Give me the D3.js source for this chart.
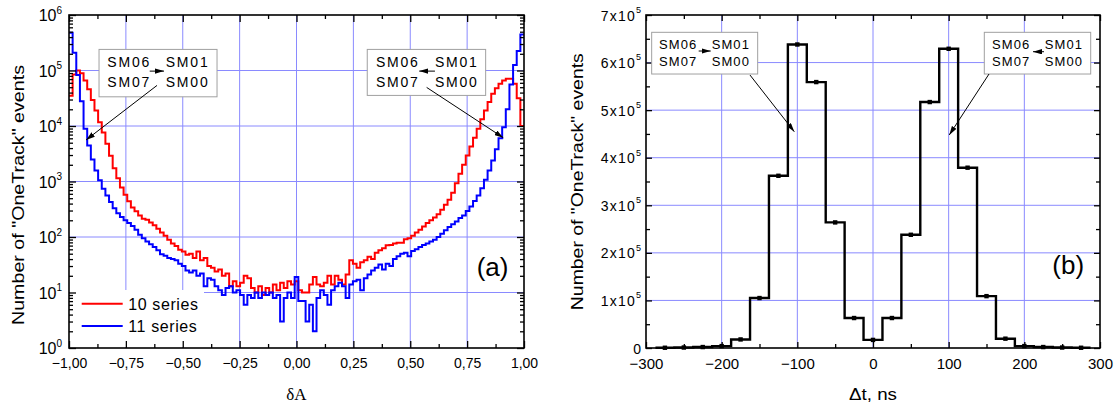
<!DOCTYPE html>
<html><head><meta charset="utf-8">
<script src="https://cdn.jsdelivr.net/npm/d3@7"></script>
<style>
body{margin:0;background:#fff}
svg{display:block}
text{font-family:"Liberation Sans",Arial,sans-serif;fill:#000}
</style>
</head><body>
<svg id="c" width="1117" height="408"></svg>
<script>
// ---------- DATA ----------
// Panel (a): histogram of dA, bins of width 0.016 from -1 to 1 (125 bins)
const binWidthA = 0.016;
const seriesNames = ["10 series", "11 series"];
const seriesColors = ["#ff0000", "#0000ff"];
const counts10 = [35000,85000,100000,89000,66000,46000,29500,19000,11700,7600,
  4800,2900,1740,1150,780,575,440,340,290,245,
  214,204,182,162,141,120,105,89,76,69,
  59,55,48,50,42,55,38,42,30,28,
  24,26,20,22,13,16,13,15,20,18,
  12,10,13,9,12,10,14,11,15,12,
  16,14,16,11,10,10,14,19,14,13,
  15,20,14,20,17,14,21,38,33,28,
  35,38,44,40,52,58,63,71,72,76,
  79,79,91,95,105,120,135,155,178,200,
  224,257,309,380,468,630,930,1380,2000,2950,
  4270,6170,8900,13200,19000,27000,38000,48000,57500,66000,
  71000,71000,57500,31600,10000];
const counts11 = [480000,209000,83000,28000,8900,4470,2500,1580,1050,740,
  560,427,331,269,229,200,178,158,135,110,
  95,83,74,66,58,49,46,42,40,38,
  33,30,25,23,25,20,22,13,18,17,
  13,11,9,12,13,10,11,9,6,9,
  8,10,8,10,9,10,8,9,3,8,
  10,8,19,7,7,3,6,2,8,11,
  9,6,11,13,15,13,8,14,16,17,
  11,18,21,25,28,32,26,33,30,40,
  45,50,52,45,56,60,66,72,76,83,
  89,100,115,132,151,170,190,219,245,295,
  355,447,562,759,1070,1580,2400,3800,6000,9500,
  20000,56000,126000,224000,447000];
const xTicksA = [-1,-0.75,-0.5,-0.25,0,0.25,0.5,0.75,1];
const xMinorA = [-0.875,-0.625,-0.375,-0.125,0.125,0.375,0.625,0.875];
const yTicksA = [1,10,100,1000,10000,100000,1000000];
const yExpA = ["0","1","2","3","4","5","6"];

// Panel (b): histogram of dt, 25 ns bins
const binWidthB = 25;
const dtCenters = [-275,-250,-225,-200,-175,-150,-125,-100,-75,-50,-25,0,25,50,75,100,125,150,175,200,225,250,275];
const dtCounts = [500,1000,2000,4000,18000,105000,362000,638000,559000,264000,63000,17000,63000,238000,517000,629000,379000,109000,19600,4000,2000,1000,500];
const xTicksB = [-300,-200,-100,0,100,200,300];
const xMinorB = [-250,-150,-50,50,150,250];
const yTicksB = [0,100000,200000,300000,400000,500000,600000,700000];
const yMinorB = [50000,150000,250000,350000,450000,550000,650000];
const yLabelsB = ["0","1x10","2x10","3x10","4x10","5x10","6x10","7x10"];

const yTitle = "Number of \"OneTrack\" events";
const modLabels = [["SM06","SM01"],["SM07","SM00"]];

// ---------- SETUP ----------
const svg = d3.select("#c");
const GRID = "#8a8aff";
const defs = svg.append("defs");
defs.append("marker").attr("id","arr").attr("viewBox","0 0 10 6")
  .attr("refX",10).attr("refY",3).attr("markerWidth",9).attr("markerHeight",5.5)
  .attr("markerUnits","userSpaceOnUse").attr("orient","auto")
  .append("path").attr("d","M0,0 L10,3 L0,6 z").attr("fill","#000");

function frame(g, L, R, T, B) {
  g.append("rect").attr("x",L).attr("y",T).attr("width",R-L).attr("height",B-T)
    .attr("fill","none").attr("stroke","#000").attr("stroke-width",1.6);
}
function styleAxis(sel){
  sel.select(".domain").remove();
  sel.selectAll(".tick line").attr("stroke","#000").attr("stroke-width",1.3);
}

// ================= PANEL (a) =================
const A = {L:69, R:524, T:15, B:348};
const xA = d3.scaleLinear().domain([-1,1]).range([A.L,A.R]);
const yA = d3.scaleLog().domain([1,1e6]).range([A.B,A.T]);
const gA = svg.append("g");

// grid
gA.append("g").selectAll("line").data(xTicksA.slice(1,-1)).join("line")
  .attr("x1",d=>xA(d)).attr("x2",d=>xA(d)).attr("y1",A.T).attr("y2",A.B)
  .attr("stroke",GRID).attr("stroke-width",1);
gA.append("g").selectAll("line").data(yTicksA.slice(1,-1)).join("line")
  .attr("x1",A.L).attr("x2",A.R).attr("y1",d=>yA(d)).attr("y2",d=>yA(d))
  .attr("stroke",GRID).attr("stroke-width",1);

// legend background (hides grid)
gA.append("rect").attr("x",A.L+1).attr("y",290).attr("width",134).attr("height",A.B-291).attr("fill","#fff");

// data step lines
const edgesA = counts10.map((_,i)=>-1+i*binWidthA);
const lineA = d3.line().x(d=>xA(d[0])).y(d=>yA(d[1])).curve(d3.curveStepAfter);
[counts10, counts11].forEach((cts,k)=>{
  const pts = cts.map((c,i)=>[edgesA[i],c]);
  pts.push([1, cts[cts.length-1]]);
  gA.append("path").datum(pts).attr("d",lineA).attr("fill","none")
    .attr("stroke",seriesColors[k]).attr("stroke-width",2).attr("stroke-linejoin","miter");
});

// axes
const minorA = [];
for (let e=0;e<6;e++) for (let m=2;m<10;m++) minorA.push(m*Math.pow(10,e));
const fmtA = d=>d3.format(".2f")(d).replace(".",",").replace("-","-");
gA.append("g").attr("transform",`translate(0,${A.B})`)
  .call(d3.axisBottom(xA).tickValues(xTicksA).tickSizeInner(-7).tickSizeOuter(0).tickPadding(10).tickFormat(fmtA))
  .call(styleAxis).call(s=>s.selectAll("text").attr("font-size",14).attr("font-family","Liberation Sans, Arial, sans-serif"));
gA.append("g").attr("transform",`translate(0,${A.B})`)
  .call(d3.axisBottom(xA).tickValues(xMinorA).tickSizeInner(-4).tickSizeOuter(0).tickFormat(""))
  .call(styleAxis);
gA.append("g").attr("transform",`translate(0,${A.T})`)
  .call(d3.axisTop(xA).tickValues(xTicksA).tickSizeInner(-7).tickSizeOuter(0).tickFormat(""))
  .call(styleAxis);
gA.append("g").attr("transform",`translate(0,${A.T})`)
  .call(d3.axisTop(xA).tickValues(xMinorA).tickSizeInner(-4).tickSizeOuter(0).tickFormat(""))
  .call(styleAxis);
const yAxL = gA.append("g").attr("transform",`translate(${A.L},0)`)
  .call(d3.axisLeft(yA).tickValues(yTicksA).tickSizeInner(-7).tickSizeOuter(0).tickPadding(7).tickFormat(""))
  .call(styleAxis);
yAxL.selectAll(".tick text").each(function(d,i){
  const t = d3.select(this).attr("font-size",16).attr("dy","0.36em");
  t.append("tspan").text("10");
  t.append("tspan").text(yExpA[i]).attr("font-size",10).attr("dy","-0.75em");
});
gA.append("g").attr("transform",`translate(${A.L},0)`)
  .call(d3.axisLeft(yA).tickValues(minorA).tickSizeInner(-4).tickSizeOuter(0).tickFormat(""))
  .call(styleAxis);
gA.append("g").attr("transform",`translate(${A.R},0)`)
  .call(d3.axisRight(yA).tickValues(yTicksA).tickSizeInner(-7).tickSizeOuter(0).tickFormat(""))
  .call(styleAxis);
gA.append("g").attr("transform",`translate(${A.R},0)`)
  .call(d3.axisRight(yA).tickValues(minorA).tickSizeInner(-4).tickSizeOuter(0).tickFormat(""))
  .call(styleAxis);
frame(gA, A.L, A.R, A.T, A.B);

// legend
seriesNames.forEach((n,k)=>{
  const yy = 303.7 + k*22.3;
  gA.append("line").attr("x1",81.7).attr("x2",122.7).attr("y1",yy).attr("y2",yy)
    .attr("stroke",seriesColors[k]).attr("stroke-width",2);
  gA.append("text").attr("x",128.3).attr("y",yy+6.3).attr("font-size",16)
    .attr("letter-spacing",0.6).text(n);
});

// titles
gA.append("text").attr("transform","translate(24,195) rotate(-90)")
  .attr("text-anchor","middle").attr("font-size",17)
  .attr("textLength",260).attr("lengthAdjust","spacingAndGlyphs").text(yTitle);
gA.append("text").attr("x",xA(0)).attr("y",400).attr("text-anchor","middle")
  .attr("font-size",17).style("font-family","'Liberation Serif','Times New Roman',serif").text("δA");
gA.append("text").attr("x",476.7).attr("y",276).attr("font-size",26).text("(a)");

// annotation boxes
function annot(g, bx, by, w, h, fs, ls, tx, col2, lines, arrow, leadFrom, leadTo) {
  g.append("rect").attr("x",bx).attr("y",by).attr("width",w).attr("height",h)
    .attr("fill","#fff").attr("stroke","#a0a0a0").attr("stroke-width",1);
  lines.forEach((row,r)=>{
    row.forEach((s,c)=>{
      g.append("text").attr("x",bx+(c?col2:tx)).attr("y",by+(r?lines.y2:lines.y1))
        .attr("font-size",fs).attr("letter-spacing",ls).text(s);
    });
  });
  g.append("line").attr("x1",bx+arrow[0]).attr("y1",by+arrow[1]).attr("x2",bx+arrow[2]).attr("y2",by+arrow[1])
    .attr("stroke","#000").attr("stroke-width",1).attr("marker-end","url(#arr)");
  g.append("line").attr("x1",bx+leadFrom[0]).attr("y1",by+leadFrom[1]).attr("x2",leadTo[0]).attr("y2",leadTo[1])
    .attr("stroke","#000").attr("stroke-width",1).attr("marker-end","url(#arr)");
}
const ml = modLabels.slice(); ml.y1 = 17.4; ml.y2 = 38;
annot(gA, xA(-0.868), yA(Math.pow(10,5.38)), 118, 47.4, 14, 1.8, 8.3, 66.7, ml, [50.7,21.7,65], [58,36], [xA(-0.925), yA(5600)]);
annot(gA, xA(0.311), yA(Math.pow(10,5.38)), 118.4, 46, 14, 1.8, 8.7, 67.7, ml, [67.7,21.7,52], [59.4,38], [xA(0.909), yA(6150)]);

// ================= PANEL (b) =================
const B = {L:646, R:1100, T:15, B:348};
const xB = d3.scaleLinear().domain([-300,300]).range([B.L,B.R]);
const yB = d3.scaleLinear().domain([0,700000]).range([B.B,B.T]);
const gB = svg.append("g");

gB.append("g").selectAll("line").data(xTicksB.slice(1,-1)).join("line")
  .attr("x1",d=>xB(d)).attr("x2",d=>xB(d)).attr("y1",B.T).attr("y2",B.B)
  .attr("stroke",GRID).attr("stroke-width",1);
gB.append("g").selectAll("line").data(yTicksB.slice(1,-1)).join("line")
  .attr("x1",B.L).attr("x2",B.R).attr("y1",d=>yB(d)).attr("y2",d=>yB(d))
  .attr("stroke",GRID).attr("stroke-width",1);

const ptsB = dtCenters.map((c,i)=>[c-binWidthB/2, dtCounts[i]]);
ptsB.push([dtCenters[dtCenters.length-1]+binWidthB/2, dtCounts[dtCounts.length-1]]);
gB.append("path").datum(ptsB)
  .attr("d", d3.line().x(d=>xB(d[0])).y(d=>yB(d[1])).curve(d3.curveStepAfter))
  .attr("fill","none").attr("stroke","#000").attr("stroke-width",2.4);
gB.append("g").selectAll("rect").data(dtCenters).join("rect")
  .attr("x",(d)=>xB(d)-2.2).attr("y",(d,i)=>yB(dtCounts[i])-2.2)
  .attr("width",4.4).attr("height",4.4).attr("fill","#000");

gB.append("g").attr("transform",`translate(0,${B.B})`)
  .call(d3.axisBottom(xB).tickValues(xTicksB).tickSizeInner(-6).tickSizeOuter(0).tickPadding(10).tickFormat(d3.format("d")))
  .call(styleAxis).call(s=>s.selectAll("text").attr("font-size",15).attr("font-family","Liberation Sans, Arial, sans-serif"));
gB.append("g").attr("transform",`translate(0,${B.B})`)
  .call(d3.axisBottom(xB).tickValues(xMinorB).tickSizeInner(-4).tickSizeOuter(0).tickFormat(""))
  .call(styleAxis);
gB.append("g").attr("transform",`translate(0,${B.T})`)
  .call(d3.axisTop(xB).tickValues(xTicksB).tickSizeInner(-6).tickSizeOuter(0).tickFormat(""))
  .call(styleAxis);
gB.append("g").attr("transform",`translate(0,${B.T})`)
  .call(d3.axisTop(xB).tickValues(xMinorB).tickSizeInner(-4).tickSizeOuter(0).tickFormat(""))
  .call(styleAxis);
const yAxB = gB.append("g").attr("transform",`translate(${B.L},0)`)
  .call(d3.axisLeft(yB).tickValues(yTicksB).tickSizeInner(-6).tickSizeOuter(0).tickPadding(5).tickFormat(""))
  .call(styleAxis);
yAxB.selectAll(".tick text").each(function(d,i){
  const t = d3.select(this).attr("font-size",14).attr("dy","0.36em");
  t.append("tspan").text(yLabelsB[i]).attr("letter-spacing", i? 1.2 : 0);
  if (i) t.append("tspan").text("5").attr("font-size",9).attr("dy","-0.85em");
});
gB.append("g").attr("transform",`translate(${B.L},0)`)
  .call(d3.axisLeft(yB).tickValues(yMinorB).tickSizeInner(-4).tickSizeOuter(0).tickFormat(""))
  .call(styleAxis);
gB.append("g").attr("transform",`translate(${B.R},0)`)
  .call(d3.axisRight(yB).tickValues(yTicksB).tickSizeInner(-6).tickSizeOuter(0).tickFormat(""))
  .call(styleAxis);
gB.append("g").attr("transform",`translate(${B.R},0)`)
  .call(d3.axisRight(yB).tickValues(yMinorB).tickSizeInner(-4).tickSizeOuter(0).tickFormat(""))
  .call(styleAxis);
frame(gB, B.L, B.R, B.T, B.B);

gB.append("text").attr("transform","translate(583.3,181.7) rotate(-90)")
  .attr("text-anchor","middle").attr("font-size",17)
  .attr("textLength",257).attr("lengthAdjust","spacingAndGlyphs").text(yTitle);
gB.append("text").attr("x",xB(0)).attr("y",400).attr("text-anchor","middle")
  .attr("font-size",16).attr("textLength",48).attr("lengthAdjust","spacingAndGlyphs").text("Δt, ns");
gB.append("text").attr("x",1052.3).attr("y",273.5).attr("font-size",26).text("(b)");

const mr = modLabels.slice(); mr.y1 = 16.7; mr.y2 = 33.7;
annot(gB, xB(-292.5), yB(663600), 106, 41.7, 13, 1.1, 7.3, 60, mr, [47,18.7,59], [98.3,42.7], [xB(-104), yB(454700)]);
annot(gB, xB(147.1), yB(663600), 106.4, 41.7, 13, 1.1, 7.7, 60.4, mr, [59.7,19.4,48.7], [4.7,41.7], [xB(100.8), yB(447800)]);
</script>
</body></html>
